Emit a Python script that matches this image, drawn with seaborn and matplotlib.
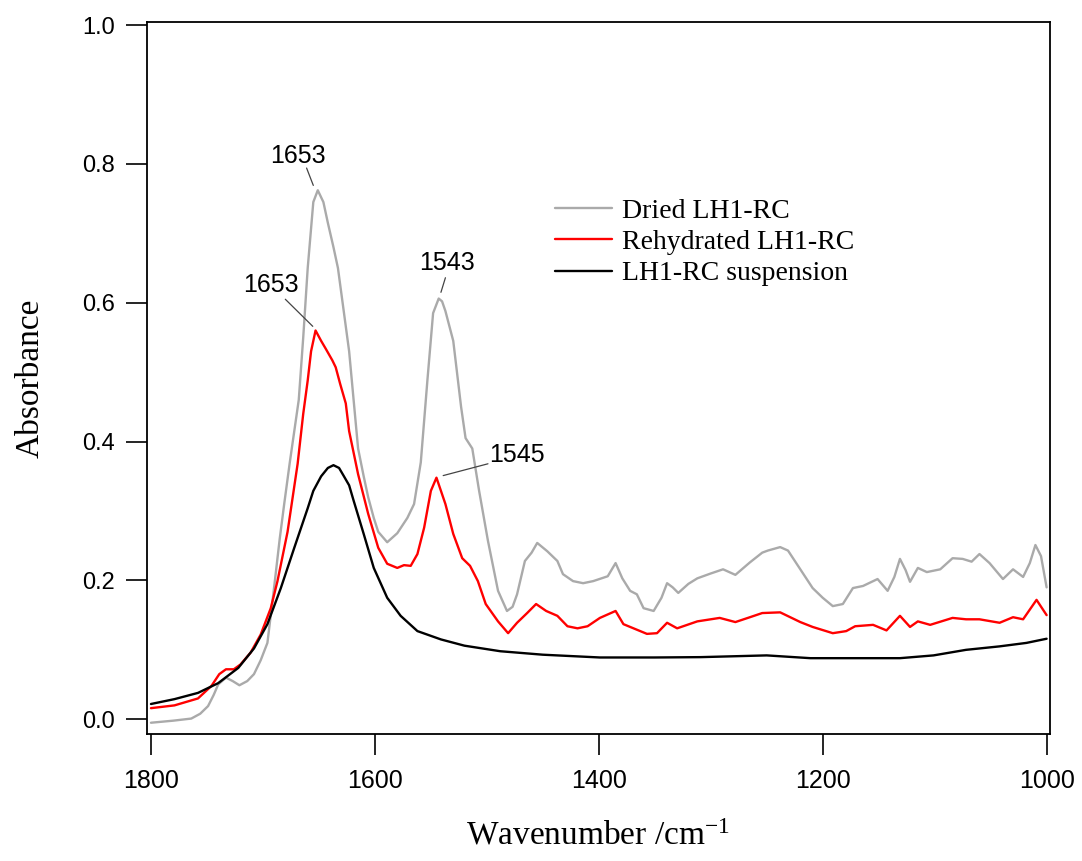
import numpy as np
import pandas as pd
import matplotlib
matplotlib.use("Agg")
import matplotlib.pyplot as plt
import seaborn as sns

# ---------------- data ----------------
dried_wn = [1800, 1780, 1764, 1756, 1749, 1744, 1740, 1733, 1727, 1721, 1714, 1708, 1702, 1696,
            1690, 1685, 1681, 1676, 1672, 1668, 1664, 1660, 1655, 1651, 1646, 1642, 1637, 1633,
            1628, 1623, 1619, 1615, 1610, 1606, 1601, 1597, 1589, 1580, 1571, 1565, 1559, 1553,
            1548, 1543, 1540, 1537, 1530, 1523, 1519, 1513, 1507, 1499, 1490, 1482, 1477, 1473, 1466,
            1460, 1455, 1446, 1437, 1432, 1423, 1414, 1405, 1392, 1385, 1379, 1372, 1366, 1360,
            1351, 1344, 1339, 1334, 1329, 1320, 1312, 1300, 1289, 1278, 1265, 1254, 1249, 1238,
            1231, 1220, 1209, 1200, 1191, 1182, 1173, 1164, 1151, 1142, 1136, 1131, 1126, 1122,
            1115, 1107, 1095, 1084, 1075, 1067, 1060, 1051, 1039, 1030, 1021, 1015, 1010, 1005, 1000]
dried_abs = [-0.005, -0.002, 0.001, 0.008, 0.019, 0.035, 0.050, 0.060, 0.055, 0.049, 0.055, 0.065,
             0.085, 0.110, 0.190, 0.260, 0.310, 0.370, 0.415, 0.460, 0.550, 0.650, 0.745, 0.762,
             0.745, 0.715, 0.680, 0.650, 0.590, 0.530, 0.460, 0.390, 0.350, 0.320, 0.290, 0.270,
             0.255, 0.268, 0.290, 0.310, 0.370, 0.490, 0.585, 0.606, 0.602, 0.588, 0.545, 0.450, 0.405,
             0.390, 0.330, 0.257, 0.185, 0.156, 0.162, 0.180, 0.228, 0.240, 0.254, 0.242, 0.228,
             0.209, 0.199, 0.196, 0.199, 0.206, 0.225, 0.203, 0.185, 0.180, 0.160, 0.156, 0.175,
             0.196, 0.190, 0.182, 0.195, 0.203, 0.210, 0.216, 0.208, 0.226, 0.240, 0.243, 0.248,
             0.243, 0.216, 0.189, 0.175, 0.163, 0.166, 0.189, 0.192, 0.202, 0.185, 0.205, 0.231,
             0.215, 0.198, 0.218, 0.212, 0.216, 0.232, 0.231, 0.227, 0.238, 0.225, 0.202, 0.216,
             0.205, 0.225, 0.251, 0.235, 0.190]

rehyd_wn = [1800, 1779, 1758, 1746, 1739, 1733, 1726, 1720, 1711, 1702, 1693, 1687, 1678, 1669,
            1664, 1660, 1657, 1653, 1648, 1644, 1638, 1635, 1631, 1626, 1623, 1615, 1606, 1597,
            1589, 1580, 1574, 1568, 1562, 1556, 1550, 1545, 1537, 1530, 1522, 1515, 1508, 1501,
            1490, 1481, 1473, 1464, 1456, 1447, 1437, 1428, 1419, 1410, 1399, 1385, 1378, 1369,
            1357, 1348, 1339, 1330, 1312, 1292, 1278, 1265, 1254, 1238, 1220, 1209, 1191, 1179,
            1171, 1155, 1143, 1131, 1122, 1115, 1104, 1084, 1072, 1060, 1042, 1030, 1021, 1009, 1000]
rehyd_abs = [0.016, 0.020, 0.030, 0.048, 0.065, 0.072, 0.072, 0.079, 0.096, 0.122, 0.160, 0.199,
             0.270, 0.368, 0.440, 0.488, 0.530, 0.560, 0.545, 0.534, 0.517, 0.507, 0.483, 0.455,
             0.415, 0.353, 0.296, 0.247, 0.224, 0.218, 0.222, 0.221, 0.238, 0.276, 0.329, 0.348,
             0.310, 0.267, 0.232, 0.221, 0.199, 0.166, 0.141, 0.124, 0.139, 0.153, 0.166, 0.156,
             0.149, 0.134, 0.131, 0.134, 0.146, 0.156, 0.137, 0.131, 0.123, 0.124, 0.139, 0.131,
             0.141, 0.146, 0.140, 0.147, 0.153, 0.154, 0.140, 0.133, 0.124, 0.127, 0.134, 0.136,
             0.128, 0.149, 0.133, 0.141, 0.136, 0.146, 0.144, 0.144, 0.139, 0.147, 0.144, 0.172, 0.150]

susp_wn = [1800, 1779, 1758, 1740, 1722, 1708, 1696, 1684, 1672, 1660, 1655, 1648, 1642, 1637,
           1632, 1628, 1623, 1619, 1610, 1601, 1589, 1577, 1562, 1541, 1520, 1488, 1450, 1399,
           1350, 1309, 1250, 1211, 1160, 1131, 1101, 1072, 1042, 1018, 1000]
susp_abs = [0.022, 0.029, 0.038, 0.052, 0.074, 0.102, 0.137, 0.189, 0.247, 0.304, 0.329, 0.350,
            0.362, 0.366, 0.362, 0.351, 0.337, 0.315, 0.267, 0.218, 0.175, 0.149, 0.127, 0.115,
            0.106, 0.098, 0.093, 0.089, 0.089, 0.0895, 0.092, 0.088, 0.088, 0.088, 0.092, 0.100,
            0.105, 0.110, 0.116]

series_names = ["Dried LH1-RC", "Rehydrated LH1-RC", "LH1-RC suspension"]
series_colors = ["#aaaaaa", "#ff0000", "#000000"]

peak_labels = ["1653", "1653", "1543", "1545"]
peak_text_x = [1668.5, 1693, 1536, 1473.5]
peak_text_y = [0.811, 0.625, 0.657, 0.380]
leader_start_x = [1661, 1680, 1537, 1499]
leader_start_y = [0.794, 0.605, 0.636, 0.368]
leader_end_x = [1655, 1655.5, 1541, 1539]
leader_end_y = [0.769, 0.566, 0.615, 0.351]

x_ticks = [1800, 1600, 1400, 1200, 1000]
y_ticks = [0.0, 0.2, 0.4, 0.6, 0.8, 1.0]

# ---------------- build frame ----------------
df = pd.concat([
    pd.DataFrame({"wn": dried_wn, "abs": dried_abs, "series": series_names[0]}),
    pd.DataFrame({"wn": rehyd_wn, "abs": rehyd_abs, "series": series_names[1]}),
    pd.DataFrame({"wn": susp_wn, "abs": susp_abs, "series": series_names[2]}),
], ignore_index=True)

# ---------------- style ----------------
sns.set_style("ticks")
plt.rcParams["font.family"] = ["Liberation Sans", "DejaVu Sans"]
plt.rcParams["mathtext.fontset"] = "custom"
plt.rcParams["mathtext.rm"] = "Liberation Serif"
plt.rcParams["mathtext.it"] = "Liberation Serif:italic"
plt.rcParams["text.color"] = "black"
plt.rcParams["axes.labelcolor"] = "black"
plt.rcParams["xtick.color"] = "black"
plt.rcParams["ytick.color"] = "black"

fig = plt.figure(figsize=(10.82, 8.61), dpi=100)
ax = fig.add_axes([0.1356, 0.1472, 0.8348, 0.8276])

sns.lineplot(data=df, x="wn", y="abs", hue="series", hue_order=series_names,
             palette=dict(zip(series_names, series_colors)), estimator=None,
             sort=True, linewidth=1.7, ax=ax)

ax.set_xlim(1803.8, 997.0)
ax.set_ylim(-0.0216, 1.0048)
ax.set_xticks(x_ticks)
ax.set_xticklabels([str(t) for t in x_ticks], fontsize=18, color="black")
ax.set_yticks(y_ticks)
ax.set_yticklabels([f"{t:.1f}" for t in y_ticks], fontsize=17, color="black")
ax.tick_params(axis="both", direction="out", length=15, width=1.2, color="black",
               labelcolor="black")
ax.tick_params(axis="x", pad=10)
ax.tick_params(axis="y", pad=8)
for s in ax.spines.values():
    s.set_visible(True)
    s.set_linewidth(1.3)
    s.set_color("black")

ax.set_xlabel(r"Wavenumber /cm$^{\mathrm{-1}}$", fontsize=24, family="Liberation Serif",
              color="black")
ax.set_ylabel("Absorbance", fontsize=24, family="Liberation Serif", color="black")
ax.xaxis.set_label_coords(0.5, -0.121)
ax.yaxis.set_label_coords(-0.112, 0.5)

# legend
handles, labels = ax.get_legend_handles_labels()
leg = ax.legend(handles, labels, loc="upper left", bbox_to_anchor=(0.452, 0.752),
                frameon=False, borderpad=0, borderaxespad=0, handlelength=2.05,
                handletextpad=0.36, labelspacing=0.21,
                prop={"family": "Liberation Serif", "size": 20})
for h in leg.get_lines():
    h.set_linewidth(1.7)
for t in leg.get_texts():
    t.set_color("black")

# peak annotations
for lab, tx, ty, x0, y0, x1, y1 in zip(peak_labels, peak_text_x, peak_text_y,
                                       leader_start_x, leader_start_y, leader_end_x, leader_end_y):
    ax.text(tx, ty, lab, ha="center", va="center", fontsize=18, color="black")
    ax.plot([x0, x1], [y0, y1], color="#444444", linewidth=0.9)

fig.savefig("out.png", dpi=100)
